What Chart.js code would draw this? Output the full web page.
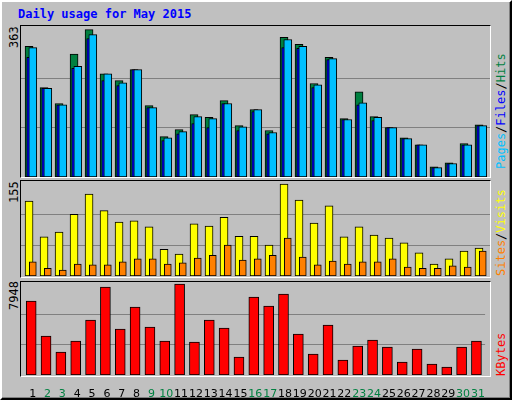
<!DOCTYPE html>
<html><head><meta charset="utf-8">
<script src="https://cdn.jsdelivr.net/npm/chart.js@4/dist/chart.umd.min.js"></script>
<style>
body{margin:0;background:#fff;}
#win{position:absolute;left:0;top:0;width:508px;height:396px;background:#c0c0c0;border:2px solid;border-color:#fff #000 #000 #fff;box-shadow:inset -1px -1px 0 #808080;outline:1px solid #000;}
.frame{position:absolute;border:1px solid #000;border-right-color:#fff;border-bottom-color:#fff;background:#c0c0c0;}
canvas{position:absolute;}
.t{position:absolute;font-family:"DejaVu Sans Mono",monospace;font-size:12px;white-space:nowrap;}
.rot{transform-origin:0 0;transform:rotate(-90deg);}
</style></head><body>
<div id="win"></div>
<div class="t" style="left:18px;top:7px;color:#0000ff;font-weight:bold;">Daily usage for May 2015</div>
<div class="frame" style="left:20px;top:25px;width:469px;height:151px"></div>
<div class="frame" style="left:20px;top:180px;width:469px;height:96px"></div>
<div class="frame" style="left:20px;top:281px;width:469px;height:94px"></div>
<canvas id="c1" style="left:21px;top:26px"></canvas>
<canvas id="c2" style="left:21px;top:181px"></canvas>
<canvas id="c3" style="left:21px;top:282px"></canvas>
<div class="t rot" style="left:7px;top:48px;">363</div>
<div class="t rot" style="left:7px;top:203px;">155</div>
<div class="t rot" style="left:7px;top:310px;">7948</div>
<div class="t rot" style="left:494px;top:169px;"><span style="color:#00c0ff">Pages</span>/<span style="color:#0000ff">Files</span>/<span style="color:#008040">Hits</span></div>
<div class="t rot" style="left:494px;top:276px;"><span style="color:#ff8000">Sites</span>/<span style="color:#ffff00">Visits</span></div>
<div class="t rot" style="left:494px;top:376px;"><span style="color:#ff0000">KBytes</span></div>
<script>
const days=[1,2,3,4,5,6,7,8,9,10,11,12,13,14,15,16,17,18,19,20,21,22,23,24,25,26,27,28,29,30,31];
const weekend=[2,3,9,10,16,17,23,24,30,31];
const hits=[320,219,180,301,361,253,236,263,175,99,116,153,146,187,126,165,114,342,325,229,293,143,209,148,121,96,79,25,35,82,128];
const files=[317,217,177,271,349,253,231,263,170,96,111,148,143,180,123,165,109,337,320,226,290,141,182,146,121,94,79,23,33,79,126];
const pages=[293,217,177,266,339,236,224,263,170,89,106,131,121,180,114,160,106,317,315,219,288,141,177,138,121,94,79,23,33,79,126];
const visits=[126,66,74,104,138,110,91,93,83,45,37,88,84,99,67,67,52,155,128,89,118,66,83,69,64,56,39,20,29,42,47];
const sites=[24,13,10,20,19,19,24,29,29,20,22,30,35,52,27,29,35,64,32,19,25,20,24,24,29,15,13,13,17,15,42];
const kbytes=[6462,3406,2009,2969,4803,7685,4017,5938,4192,2969,7948,2882,4803,4105,1572,6812,6026,7074,3581,1834,4367,1310,2533,3057,2445,1135,2271,961,699,2445,2969];
const maxHits=363,maxVisits=155,maxKB=7948;

function pts(a){return days.map((d,i)=>({x:d,y:a[i]}));}
function xa(min,show){return {type:'linear',min:min,max:min+31.27,offset:false,display:show||false,grid:{display:false}};}
function ya(max,top){return {min:0,max:top,display:true,border:{display:false},ticks:{display:false},
 grid:{color:'#808080',drawTicks:false,lineWidth:1},
 afterFit:s=>{s.width=0;},
 afterBuildTicks:s=>{s.ticks=[{value:max/3},{value:2*max/3}];}};}
function ds(data,color,axis,w,order){return {data:pts(data),backgroundColor:color,borderColor:'#000',borderWidth:1,
 xAxisID:axis,barThickness:w,order:order,borderSkipped:false,grouped:false};}
const base={responsive:false,animation:false,plugins:{legend:{display:false},tooltip:{enabled:false}},layout:{padding:0}};
function size(id,w,h){const c=document.getElementById(id);c.width=w;c.height=h;c.style.width=w+'px';c.style.height=h+'px';return c;}

new Chart(size('c1',469,151),{type:'bar',data:{datasets:[
 ds(files,'#00c0ff','xf',8,0),ds(pages,'#0000ff','xp',3,1),ds(hits,'#008040','xh',8,2)]},
 options:Object.assign({},base,{scales:{xf:xa(0.213),xp:xa(0.52),xh:xa(0.463),y:ya(maxHits,370)}})});

new Chart(size('c2',469,95),{type:'bar',data:{datasets:[
 ds(sites,'#ff8000','xs',7,0),ds(visits,'#ffff00','xv',8,1)]},
 options:Object.assign({},base,{scales:{xs:xa(0.213),xv:xa(0.463),y:ya(maxVisits,160)}})});

new Chart(size('c3',469,118),{type:'bar',data:{datasets:[ds(kbytes,'#ff0000','xk',10,0)]},
 options:Object.assign({},base,{scales:{
  xk:xa(0.313),
  xl:Object.assign(xa(0.213,true),{position:'bottom',border:{display:false},
   afterBuildTicks:s=>{s.ticks=days.map(v=>({value:v}));},
   afterFit:s=>{s.height=25;},
   ticks:{maxRotation:0,autoSkip:false,padding:5,font:{family:'DejaVu Sans',size:11},
    color:c=>weekend.includes(c.tick.value)?'#008040':'#000',callback:v=>String(v)}}),
  y:ya(maxKB,8123)}})});
</script>
</body></html>
